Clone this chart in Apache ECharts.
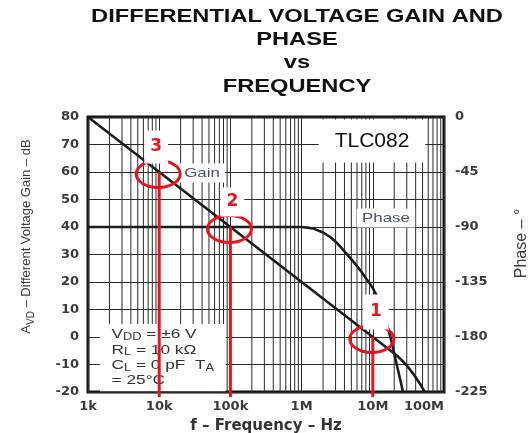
<!DOCTYPE html>
<html>
<head>
<meta charset="utf-8">
<script src="https://cdn.jsdelivr.net/npm/echarts/dist/echarts.min.js"></script>
<style>
  html, body { margin: 0; padding: 0; background: #fff; }
  #chart { width: 528px; height: 433px; }
</style>
</head>
<body>
<div id="chart"></div>
<script>
// Frequency tick labels (one per decade, 1 kHz .. 100 MHz)
const xTickLabels = ['1k', '10k', '100k', '1M', '10M', '100M'];

// Open-loop differential voltage gain (dB) vs frequency (Hz)
const gainFreq = [1e3, 1e7, 2e7, 2.3e7, 2.7e7, 3e7, 3.3e7, 3.7e7, 4e7, 4.4e7, 4.7e7, 5e7, 5.4e7];
const gainDb   = [80, 0, -6, -7.3, -9.1, -10.4, -11.7, -13.4, -14.7, -16.3, -17.4, -18.6, -20];

// Phase (degrees) vs frequency (Hz)
const phaseFreq = [1e3, 1e6, 1.2e6, 1.5e6, 2e6, 2.5e6, 3e6, 3.5e6, 4e6, 5e6, 6e6, 7e6, 8e6, 9e6,
                   1e7, 1.15e7, 1.3e7, 1.5e7, 1.7e7, 1.9e7, 2.1e7, 2.3e7, 2.5e7, 2.65e7];
const phaseDeg  = [-90, -90, -90.5, -91.5, -94.5, -98, -102, -106, -110, -116.5, -122, -127, -132, -136,
                   -140, -147, -154, -165, -176, -188, -199, -209, -218, -225];

// Highlighted points on the gain curve
const markFreq = [1e4, 1e5, 1e7];
const markGain = [60, 40, 0];
const markTag  = ['3', '2', '1'];

// Log-decade minor grid frequencies (2..9 x each decade)
const minorFreq = [];
for (let d = 1e3; d < 1e8; d *= 10) {
  for (let m = 2; m <= 9; m++) minorFreq.push(m * d);
}

const RED = '#e8141c';
const INK = '#1c1c1c';
const GRID_C = '#2a2a2a';

const chart = echarts.init(document.getElementById('chart'));

const tickFont = { fontFamily: 'DejaVu Sans', fontWeight: 'bold', fontSize: 13, color: '#3a3a3a' };

chart.setOption({
  animation: false,
  grid: {
    left: 88, right: 84, top: 117, bottom: 41,
    outerBoundsMode: 'none', containLabel: false,
    show: true, borderColor: '#111', borderWidth: 3, backgroundColor: 'transparent'
  },
  xAxis: {
    type: 'log', logBase: 10, min: 1e3, max: 1e8,
    axisLine: { show: false }, axisTick: { show: false },
    splitLine: { show: true, lineStyle: { color: GRID_C, width: 1 } },
    axisLabel: Object.assign({
      margin: 8,
      alignMaxLabel: 'right',
      formatter: v => xTickLabels[Math.round(Math.log10(v)) - 3]
    }, tickFont),
    name: 'f – Frequency – Hz',
    nameLocation: 'middle', nameGap: 27,
    nameTextStyle: { fontFamily: 'DejaVu Sans', fontWeight: 'bold', fontSize: 15, color: '#333' }
  },
  yAxis: [
    {
      type: 'value', min: -20, max: 80, interval: 10,
      axisLine: { show: false }, axisTick: { show: false },
      splitLine: { show: true, lineStyle: { color: GRID_C, width: 1 } },
      axisLabel: Object.assign({ margin: 9 }, tickFont),
      name: '{a|A}{s|VD}{a| – Different Voltage Gain – dB}',
      nameLocation: 'middle', nameRotate: 90, nameGap: 52,
      nameTextStyle: {
        padding: [0, 0, 0, 36],
        rich: {
          a: { fontFamily: 'Liberation Sans', fontSize: 13, color: '#3a3a3a', lineHeight: 20, verticalAlign: 'middle' },
          s: { fontFamily: 'Liberation Sans', fontSize: 10, color: '#3a3a3a', lineHeight: 10, verticalAlign: 'bottom' }
        }
      }
    },
    {
      type: 'value', min: -225, max: 0, interval: 45, position: 'right',
      axisLine: { show: false }, axisTick: { show: false },
      splitLine: { show: false },
      axisLabel: Object.assign({ margin: 11 }, tickFont),
      name: 'Phase – °',
      nameLocation: 'middle', nameRotate: 90, nameGap: 70,
      nameTextStyle: { fontFamily: 'Liberation Sans', fontSize: 16, color: '#3a3a3a', padding: [0, 0, 0, 22] }
    }
  ],
  graphic: [
    {
      type: 'text', x: 297, y: 5, scaleX: 1.245, z: 1,
      style: {
        text: 'DIFFERENTIAL VOLTAGE GAIN AND\nPHASE\nvs\nFREQUENCY',
        font: 'bold 19px "Liberation Sans"', fill: '#111',
        align: 'center', verticalAlign: 'top', lineHeight: 23.3
      }
    },
    {
      type: 'text', x: 372, y: 141, z: 1,
      style: {
        text: 'TLC082', font: '21px "Liberation Sans"', fill: '#111',
        align: 'center', verticalAlign: 'middle',
        backgroundColor: '#fff', padding: [11, 16]
      }
    },
    {
      type: 'text', x: 202, y: 173, scaleX: 1.3, z: 1,
      style: {
        text: 'Gain', font: '13px "Liberation Sans"', fill: '#4a5163',
        align: 'center', verticalAlign: 'middle',
        backgroundColor: '#fff', padding: [3, 4]
      }
    },
    {
      type: 'text', x: 386, y: 218, scaleX: 1.3, z: 1,
      style: {
        text: 'Phase', font: '13px "Liberation Sans"', fill: '#4a5163',
        align: 'center', verticalAlign: 'middle',
        backgroundColor: '#fff', padding: [3, 4]
      }
    },
    {
      type: 'text', x: 100, y: 324, scaleX: 1.28, z: 1,
      style: {
        text: '{t|V}{s|DD}{t| = ±6 V}\n{t|R}{s|L}{t| = 10 kΩ}\n{t|C}{s|L}{t| = 0 pF  T}{s|A}\n{t|= 25°C}',
        align: 'left', verticalAlign: 'top',
        backgroundColor: '#fff', padding: [3, 9, 3, 9],
        rich: {
          t: { fontFamily: 'Liberation Sans', fontSize: 13.5, fill: '#333', lineHeight: 15.3, verticalAlign: 'middle' },
          s: { fontFamily: 'Liberation Sans', fontSize: 10, fill: '#333', lineHeight: 8, verticalAlign: 'bottom' }
        }
      }
    }
  ],
  series: [
    {
      // minor log grid lines
      type: 'custom', z: 0, silent: true,
      data: minorFreq.map(f => [f, 0]),
      renderItem: (params, api) => {
        const f = api.value(0);
        const top = api.coord([f, 80]);
        const bot = api.coord([f, -20]);
        return {
          type: 'line',
          shape: { x1: top[0], y1: top[1], x2: bot[0], y2: bot[1] },
          style: { stroke: GRID_C, lineWidth: 1 }
        };
      }
    },
    {
      name: 'Gain', type: 'line', yAxisIndex: 0, z: 2,
      data: gainFreq.map((f, i) => [f, gainDb[i]]),
      showSymbol: false, smooth: false,
      lineStyle: { color: INK, width: 2.6, join: 'round' }
    },
    {
      name: 'Phase', type: 'line', yAxisIndex: 1, z: 2,
      data: phaseFreq.map((f, i) => [f, phaseDeg[i]]),
      showSymbol: false, smooth: false,
      lineStyle: { color: INK, width: 2.6, join: 'round' }
    },
    {
      // highlighted gain points: drop line, ring and tag
      type: 'custom', z: 3, silent: true, clip: false,
      data: markFreq.map((f, i) => [f, markGain[i], i]),
      renderItem: (params, api) => {
        const f = api.value(0), g = api.value(1), i = api.value(2);
        const p = api.coord([f, g]);
        const base = api.coord([f, -20]);
        const dx = [-3, 2, 3][i];
        const pad = [[8, 6], [6, 6], [9, 7]][i];
        return {
          type: 'group',
          children: [
            {
              type: 'line',
              shape: { x1: p[0], y1: p[1], x2: p[0], y2: base[1] + 5 },
              style: { stroke: RED, lineWidth: 3 }
            },
            {
              type: 'ellipse',
              shape: { cx: p[0] - 1, cy: p[1] + 2, rx: 22, ry: 13.5 },
              style: { fill: 'none', stroke: RED, lineWidth: 3 }
            },
            {
              type: 'text', x: p[0] + dx, y: p[1] - 25,
              style: {
                text: markTag[i], font: 'bold 17px "DejaVu Sans"', fill: RED,
                align: 'center', verticalAlign: 'middle',
                backgroundColor: '#fff', padding: pad
              }
            }
          ]
        };
      }
    }
  ]
});
</script>
</body>
</html>
